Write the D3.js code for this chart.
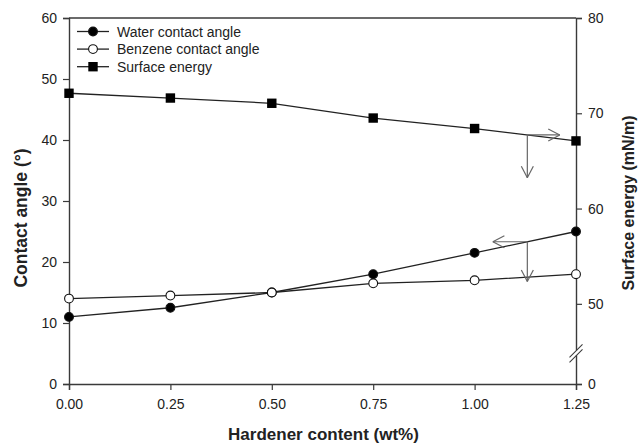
<!DOCTYPE html>
<html>
<head>
<meta charset="utf-8">
<script src="https://cdn.jsdelivr.net/npm/d3@7"></script>
<style>
  html, body { margin: 0; padding: 0; background: #fff; }
  svg { display: block; font-family: "Liberation Sans", Arial, sans-serif; }
</style>
</head>
<body>
<svg id="chart" width="638" height="444"></svg>
<script>
// Hardener content (wt%)
const hardener = [0, 0.25, 0.5, 0.75, 1.0, 1.25];
// Contact angles (degrees), left axis
const waterAngle = [11, 12.5, 15, 18, 21.5, 25];
const benzeneAngle = [14, 14.5, 15, 16.5, 17, 18];
// Surface energy (mN/m), right axis
const surfaceEnergy = [72.1, 71.6, 71.05, 69.5, 68.4, 67.1];

const xTicks = [0, 0.25, 0.5, 0.75, 1.0, 1.25];
const leftTicks = [0, 10, 20, 30, 40, 50, 60];
const rightTicks = [0, 50, 60, 70, 80];

const legendLabels = ["Water contact angle", "Benzene contact angle", "Surface energy"];

const W = 638, H = 444;
const margin = { top: 18, right: 62, bottom: 60, left: 69 };
const x0 = margin.left, x1 = W - margin.right;
const y0 = H - margin.bottom, y1 = margin.top;

const svg = d3.select("#chart");
const ink = "#222";
const axisInk = "#3a3a3a";

const x = d3.scaleLinear().domain([0, 1.25]).range([x0, x1]);
const yL = d3.scaleLinear().domain([0, 60]).range([y0, y1]);
// right axis is broken between 0 and ~44 (compressed segment)
const yR = d3.scaleLinear().domain([0, 44, 80]).range([y0, 361, y1]);

// axes
const fmtX = d3.format(".2f");
const gx = svg.append("g").attr("transform", `translate(0,${y0})`)
  .call(d3.axisBottom(x).tickValues(xTicks).tickFormat(fmtX).tickSizeOuter(0).tickSize(6).tickPadding(9));
const gl = svg.append("g").attr("transform", `translate(${x0},0)`)
  .call(d3.axisLeft(yL).tickValues(leftTicks).tickSizeOuter(0).tickSize(6).tickPadding(6));
const gr = svg.append("g").attr("transform", `translate(${x1},0)`)
  .call(d3.axisRight(yR).tickValues(rightTicks).tickSizeOuter(0).tickSize(6).tickPadding(6));

[gx, gl, gr].forEach(g => {
  g.selectAll("path.domain").attr("stroke", axisInk).attr("stroke-width", 1.4);
  g.selectAll(".tick line").attr("stroke", axisInk).attr("stroke-width", 1.2);
  g.selectAll(".tick text").attr("fill", ink).style("font-size", "14px")
    .style("font-family", "'Liberation Sans', Arial, sans-serif");
});

// top frame line
svg.append("line").attr("x1", x0).attr("x2", x1).attr("y1", y1).attr("y2", y1)
  .attr("stroke", axisInk).attr("stroke-width", 1.4);

// axis break marks on the right axis
const bY = yR(44.8);
svg.append("rect").attr("x", x1 - 3).attr("y", bY - 3).attr("width", 6).attr("height", 5).attr("fill", "#fff");
[0, 5].forEach(off => {
  svg.append("line")
    .attr("x1", x1 - 6.5).attr("y1", bY + off + 4)
    .attr("x2", x1 + 6.5).attr("y2", bY + off - 9)
    .attr("stroke", axisInk).attr("stroke-width", 1.1);
});

// axis titles
svg.append("text").attr("x", (x0 + x1) / 2 + 1).attr("y", 440)
  .attr("text-anchor", "middle").attr("font-weight", "bold").attr("font-size", 17).attr("fill", ink)
  .text("Hardener content (wt%)");
svg.append("text").attr("transform", `translate(27,218) rotate(-90)`)
  .attr("text-anchor", "middle").attr("font-weight", "bold").attr("font-size", 17.5).attr("fill", ink)
  .text("Contact angle (°)");
svg.append("text").attr("transform", `translate(634,203) rotate(-90)`)
  .attr("text-anchor", "middle").attr("font-weight", "bold").attr("font-size", 16).attr("fill", ink)
  .text("Surface energy (mN/m)");

// series
const series = [
  { vals: waterAngle, y: yL, marker: "filled" },
  { vals: benzeneAngle, y: yL, marker: "open" },
  { vals: surfaceEnergy, y: yR, marker: "square" }
];

function drawMarker(g, type, cx, cy) {
  if (type === "square") {
    g.append("rect").attr("x", cx - 4.7).attr("y", cy - 4.7).attr("width", 9.4).attr("height", 9.4)
      .attr("fill", "#000");
  } else {
    g.append("circle").attr("cx", cx).attr("cy", cy).attr("r", 4.4)
      .attr("fill", type === "filled" ? "#000" : "#fff").attr("stroke", "#111").attr("stroke-width", 1.1);
  }
}

series.forEach(s => {
  const line = d3.line().x((d, i) => x(hardener[i])).y(d => s.y(d));
  svg.append("path").datum(s.vals).attr("d", line)
    .attr("fill", "none").attr("stroke", ink).attr("stroke-width", 1.3);
});
series.forEach(s => {
  const g = svg.append("g");
  s.vals.forEach((v, i) => drawMarker(g, s.marker, x(hardener[i]), s.y(v)));
});

// arrows that point each curve to its axis
function interp(vals, xv) {
  for (let i = 0; i < hardener.length - 1; i++) {
    if (xv >= hardener[i] && xv <= hardener[i + 1]) {
      const t = (xv - hardener[i]) / (hardener[i + 1] - hardener[i]);
      return vals[i] + t * (vals[i + 1] - vals[i]);
    }
  }
  return vals[vals.length - 1];
}
const arrowInk = "#666";
function arrow(ax, ay, bx, by) {
  const g = svg.append("g").attr("stroke", arrowInk).attr("stroke-width", 1.2).attr("fill", "none");
  g.append("line").attr("x1", ax).attr("y1", ay).attr("x2", bx).attr("y2", by);
  const ang = Math.atan2(by - ay, bx - ax);
  const len = 13, spread = 0.48;
  [1, -1].forEach(sg => {
    g.append("line").attr("x1", bx).attr("y1", by)
      .attr("x2", bx - len * Math.cos(ang + sg * spread))
      .attr("y2", by - len * Math.sin(ang + sg * spread));
  });
}
const arrowX = 1.13;
// surface energy -> right axis
const seY = yR(interp(surfaceEnergy, arrowX));
arrow(x(arrowX), seY, x(1.21), seY);
arrow(x(arrowX), seY, x(arrowX), yL(33.8));
// water contact angle -> left axis
const waY = yL(interp(waterAngle, arrowX));
arrow(x(arrowX), waY, x(1.045), waY);
arrow(x(arrowX), waY, x(arrowX), yL(16.8));

// legend
const lg = svg.append("g");
legendLabels.forEach((lab, i) => {
  const ly = 31.5 + i * 17.6;
  lg.append("line").attr("x1", 77).attr("x2", 109).attr("y1", ly).attr("y2", ly)
    .attr("stroke", ink).attr("stroke-width", 1.3);
  drawMarker(lg, series[i].marker, 93, ly);
  lg.append("text").attr("x", 117).attr("y", ly + 5).attr("font-size", 14).attr("fill", ink).text(lab);
});
</script>
</body>
</html>
